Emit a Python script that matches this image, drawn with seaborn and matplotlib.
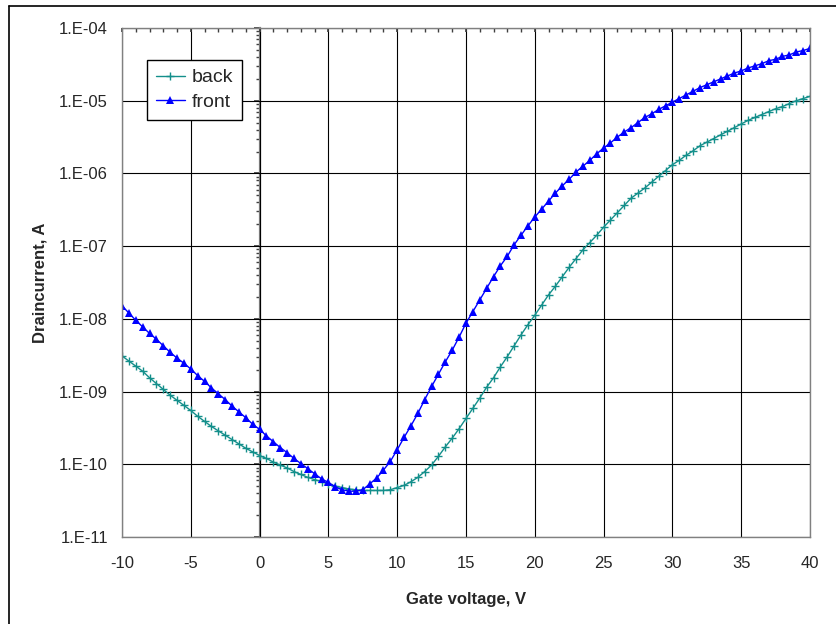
import numpy as np
import pandas as pd
import matplotlib
matplotlib.use("Agg")
import matplotlib.pyplot as plt
import seaborn as sns
from matplotlib.ticker import MultipleLocator, LogLocator, FuncFormatter, NullFormatter
from matplotlib.lines import Line2D

# gate voltage sweep, -10 V .. 40 V in 0.5 V steps
gate_voltage = np.linspace(-10, 40, 101)

# log10 of drain current (A)
back_log = [
    -8.51, -8.58, -8.65, -8.72, -8.81, -8.89, -8.97, -9.05, -9.12, -9.19,   # -10 .. -5.5
    -9.26, -9.34, -9.41, -9.48, -9.54, -9.60, -9.66, -9.72, -9.78, -9.83,   # -5 .. -0.5
    -9.88, -9.92, -9.97, -10.01, -10.05, -10.10, -10.14, -10.18, -10.21, -10.24,  # 0 .. 4.5
    -10.27, -10.30, -10.32, -10.34, -10.35, -10.36, -10.36, -10.36, -10.36, -10.35,  # 5 .. 9.5
    -10.32, -10.29, -10.24, -10.18, -10.10, -10.01, -9.89, -9.76, -9.64, -9.51,  # 10 .. 14.5
    -9.37, -9.23, -9.09, -8.94, -8.81, -8.66, -8.52, -8.37, -8.22, -8.08,   # 15 .. 19.5
    -7.95, -7.81, -7.67, -7.55, -7.42, -7.29, -7.17, -7.05, -6.95, -6.85,   # 20 .. 24.5
    -6.74, -6.64, -6.54, -6.44, -6.34, -6.27, -6.20, -6.12, -6.04, -5.96,   # 25 .. 29.5
    -5.88, -5.82, -5.75, -5.69, -5.62, -5.57, -5.52, -5.47, -5.42, -5.37,   # 30 .. 34.5
    -5.32, -5.27, -5.23, -5.19, -5.15, -5.11, -5.08, -5.04, -5.00, -4.97,   # 35 .. 39.5
    -4.94,                                                                  # 40
]
front_log = [
    -7.82, -7.92, -8.02, -8.11, -8.20, -8.28, -8.37, -8.46, -8.54, -8.61,
    -8.69, -8.78, -8.86, -8.95, -9.03, -9.11, -9.20, -9.28, -9.36, -9.45,
    -9.52, -9.61, -9.69, -9.77, -9.84, -9.92, -9.99, -10.06, -10.13, -10.20,
    -10.25, -10.31, -10.35, -10.37, -10.37, -10.35, -10.27, -10.19, -10.08, -9.96,
    -9.80, -9.63, -9.47, -9.30, -9.11, -8.93, -8.76, -8.59, -8.43, -8.25,
    -8.06, -7.90, -7.74, -7.58, -7.42, -7.27, -7.14, -6.98, -6.85, -6.72,
    -6.60, -6.49, -6.38, -6.27, -6.17, -6.08, -5.98, -5.90, -5.82, -5.73,
    -5.65, -5.58, -5.50, -5.43, -5.37, -5.30, -5.23, -5.18, -5.12, -5.07,
    -5.02, -4.97, -4.92, -4.87, -4.82, -4.78, -4.74, -4.70, -4.66, -4.62,
    -4.59, -4.55, -4.52, -4.49, -4.45, -4.43, -4.39, -4.37, -4.33, -4.31,
    -4.28,
]

df = pd.DataFrame({
    "gate": gate_voltage,
    "back": 10.0 ** np.array(back_log),
    "front": 10.0 ** np.array(front_log),
})

sns.set_theme(style="white")
plt.rcParams["font.family"] = ["Liberation Sans", "DejaVu Sans"]
plt.rcParams["axes.unicode_minus"] = False

back_color = "#148f8b"
front_color = "#0000ff"

fig = plt.figure(figsize=(8.37, 6.24), dpi=100)
ax = fig.add_axes([122 / 837, 1 - 537 / 624, 688 / 837, 509 / 624])
ax.set_yscale("log")

sns.lineplot(data=df, x="gate", y="back", ax=ax, color=back_color, lw=1.0,
             marker="+", markersize=6, markeredgewidth=1.0,
             markeredgecolor=back_color, label="back")
sns.lineplot(data=df, x="gate", y="front", ax=ax, color=front_color, lw=1.0,
             marker="^", markersize=6, markeredgewidth=0,
             markeredgecolor=front_color, label="front")

ax.set_xlim(-10, 40)
ax.set_ylim(1e-11, 1e-4)
ax.xaxis.set_major_locator(MultipleLocator(5))
ax.xaxis.set_minor_locator(MultipleLocator(1))
ax.yaxis.set_major_locator(LogLocator(base=10, numticks=20))
ax.yaxis.set_minor_locator(LogLocator(base=10, subs=np.arange(2, 10), numticks=100))
ax.yaxis.set_minor_formatter(NullFormatter())
ax.yaxis.set_major_formatter(FuncFormatter(lambda v, p: f"1.E{int(round(np.log10(v))):03d}"))

ax.grid(True, which="major", color="black", linewidth=0.8)
ax.grid(False, which="minor")
for s in ax.spines.values():
    s.set_color("#808080")
    s.set_linewidth(1.0)

ax.tick_params(axis="x", which="both", bottom=False, top=True, direction="in",
               labelbottom=True, labeltop=False, color="#404040", labelsize=12, pad=14)
ax.tick_params(axis="x", which="major", length=3)
ax.tick_params(axis="x", which="minor", length=3)
ax.tick_params(axis="y", which="both", left=False, right=False, length=0, labelsize=12, pad=10)

# y axis crossing at x = 0 with its own tick marks
sec = ax.secondary_yaxis(0.2)
sec.yaxis.set_major_locator(LogLocator(base=10, numticks=20))
sec.yaxis.set_minor_locator(LogLocator(base=10, subs=np.arange(2, 10), numticks=100))
sec.tick_params(which="both", direction="out", labelleft=False, color="#404040")
sec.tick_params(which="major", length=4)
sec.tick_params(which="minor", length=3)
sec.spines["left"].set_color("#808080")
sec.spines["left"].set_linewidth(1.6)

ax.set_xlabel("Gate voltage, V", fontsize=12, fontweight="bold", labelpad=15)
ax.set_ylabel("Draincurrent, A", fontsize=12, fontweight="bold", labelpad=8)

ax.legend(loc="upper left", bbox_to_anchor=(25 / 688, 1 - 32 / 509), borderaxespad=0,
          frameon=True, fancybox=False, edgecolor="black", framealpha=1,
          fontsize=14, handlelength=1.5, handletextpad=0.35, borderpad=0.45,
          labelspacing=0.35)

# outer chart border (left and top edges visible)
fig.add_artist(Line2D([9 / 837, 9 / 837], [0, 1 - 6 / 624], transform=fig.transFigure,
                      color="black", lw=1.2))
fig.add_artist(Line2D([9 / 837, 1], [1 - 6 / 624, 1 - 6 / 624], transform=fig.transFigure,
                      color="black", lw=1.2))

fig.savefig("out.png", dpi=100)
